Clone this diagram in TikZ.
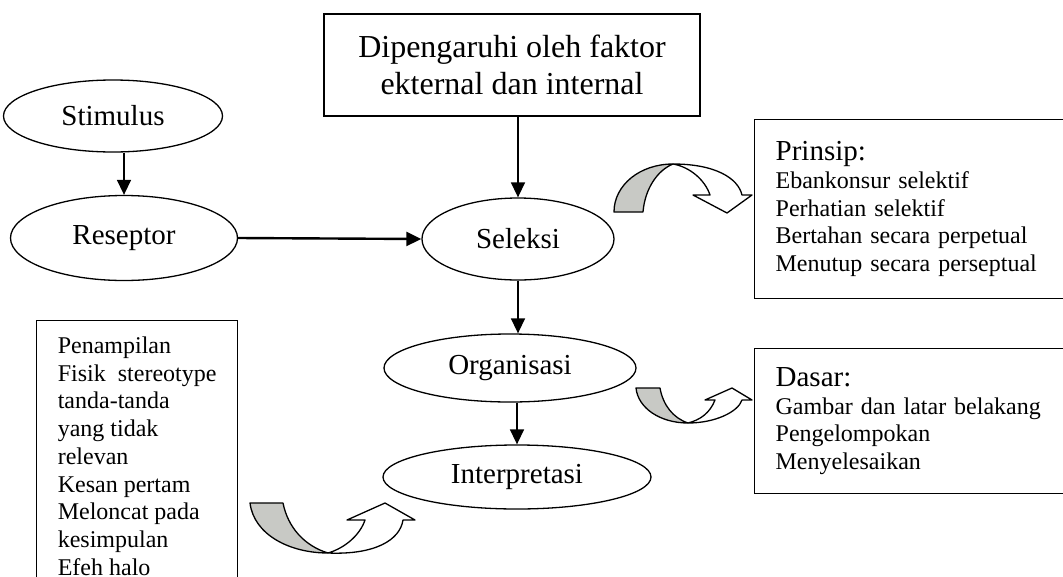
\documentclass[tikz,border=0pt]{standalone}
\usepackage{fontspec}
\setmainfont{Liberation Serif}
\usetikzlibrary{shapes.geometric,arrows.meta}
\definecolor{bandgray}{RGB}{200,201,197}
\tikzset{
  oval/.style={draw,ellipse,line width=1.3pt,inner sep=0pt,font=\fontsize{29}{34}\selectfont},
  infobox/.style={draw,rectangle,line width=1.3pt,align=left,font=\fontsize{24}{27.75}\selectfont},
  flow/.style={-{Triangle[length=15pt,width=14pt]},line width=1.5pt},
  band/.style={draw,line width=1.3pt,line join=round}
}
\begin{document}
\begin{tikzpicture}[x=1pt,y=-1pt]
        \useasboundingbox (0,0) rectangle (1063,576);
        \clip (0,0) rectangle (1063,576);
        \node[oval,minimum width=219pt,minimum height=72pt] (stim) at (113,116) {Stimulus};
        \node[oval,minimum width=227pt,minimum height=85pt] (resep) at (124,238) {Reseptor};
        \node[oval,minimum width=192pt,minimum height=82pt] (sel) at (518,239) {Seleksi};
        \node[oval,minimum width=252pt,minimum height=68pt] (org) at (510,368) {Organisasi};
        \node[oval,minimum width=268pt,minimum height=64pt] (interp) at (517,477) {Interpretasi};
        \node[draw,line width=1.3pt,minimum width=376pt,minimum height=102pt,align=center,
              font=\fontsize{32}{37}\selectfont] (faktor) at (512,65) {Dipengaruhi oleh faktor\\ekternal dan internal};
        \node[infobox,anchor=north west,minimum height=179pt,text width=300pt,inner xsep=21pt] (prinsip) at (754,119)
              {{\fontsize{29}{30}\selectfont Prinsip:}\\Ebankonsur selektif\\Perhatian selektif\\Bertahan secara perpetual\\Menutup secara perseptual};
        \node[infobox,anchor=north west,minimum height=145pt,text width=300pt,inner xsep=21pt] (dasar) at (754,348)
              {{\fontsize{29}{30}\selectfont Dasar:}\\Gambar dan latar belakang\\Pengelompokan\\Menyelesaikan\\[4pt]};
        \node[infobox,anchor=north west,minimum width=201pt,inner ysep=16pt] (faktorp) at (36,320)
              {Penampilan\\Fisik~ stereotype\\tanda-tanda\\yang tidak\\relevan\\Kesan pertam\\Meloncat pada\\kesimpulan\\Efeh halo};
        \draw[flow] (resep.north |- stim.south) -- (resep.north);
        \draw[flow,line width=2.4pt] (resep.east) -- (sel.west);
        \draw[flow] (faktor.south -| sel.north) -- (sel.north);
        \draw[flow] (sel.south) -- (sel.south |- org.north);
        \draw[flow] (interp.north |- org.south) -- (interp.north);
        % curved arrows
        \draw[band,fill=bandgray] (614,212) .. controls (614,185) and (640,164) .. (673,164)
              .. controls (658,170) and (645,188) .. (643,212) -- cycle;
        \draw[band,fill=white] (673,164) .. controls (715,164) and (738,178) .. (742,195) -- (752,195) -- (727,213)
              -- (693,195) -- (710,195) .. controls (705,180) and (690,167) .. (673,164) -- cycle;
        \draw[band,fill=bandgray] (636,388) -- (660,388) .. controls (663,405) and (673,418) .. (688,423)
              .. controls (660,423) and (638,408) .. (636,388) -- cycle;
        \draw[band,fill=white] (688,423) .. controls (715,423) and (738,412) .. (742,400) -- (752,400) -- (732,388)
              -- (705,400) -- (715,400) .. controls (710,413) and (700,420) .. (688,423) -- cycle;
        \draw[band,fill=bandgray] (250,503) -- (283,503) .. controls (288,528) and (305,546) .. (328,553)
              .. controls (290,553) and (254,535) .. (250,503) -- cycle;
        \draw[band,fill=white] (328,553) .. controls (375,555) and (400,540) .. (403,520) -- (415,520) -- (385,503)
              -- (347,520) -- (365,520) .. controls (360,535) and (345,548) .. (328,553) -- cycle;
\end{tikzpicture}
\end{document}
